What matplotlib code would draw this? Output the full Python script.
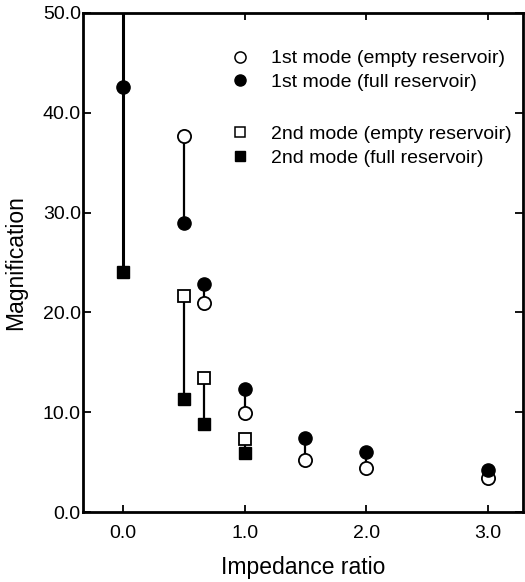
import numpy as np
import matplotlib
matplotlib.use("Agg")
import matplotlib.pyplot as plt
from matplotlib.lines import Line2D

plt.rcParams['font.family'] = ['Liberation Sans', 'DejaVu Sans']

# impedance ratios
ratio = [0.0, 0.5, 2 / 3, 1.0, 1.5, 2.0, 3.0]

# magnification values (nan = off the chart / not plotted)
mode1_empty = [np.nan, 37.7, 20.9, 9.9, 5.2, 4.4, 3.4]
mode1_full = [42.6, 29.0, 22.8, 12.3, 7.4, 6.0, 4.2]
mode2_empty = [np.nan, 21.6, 13.4, 7.3, np.nan, np.nan, np.nan]
mode2_full = [24.0, 11.3, 8.8, 5.9, np.nan, np.nan, np.nan]

legend1 = ['1st mode (empty reservoir)', '1st mode (full reservoir)']
legend2 = ['2nd mode (empty reservoir)', '2nd mode (full reservoir)']

YMAX = 50.0


def main():
    fig = plt.figure(figsize=(5.25, 5.82), dpi=100)
    ax = fig.add_axes([0.158, 0.12, 0.838, 0.858])

    # vertical connectors between empty and full values
    for i, x in enumerate(ratio):
        if i == 0:
            # empty reservoir value goes off the chart
            ax.plot([x, x], [YMAX, mode2_full[i]], color='black', lw=2.2, zorder=1)
            continue
        for e, f in ((mode1_empty[i], mode1_full[i]), (mode2_empty[i], mode2_full[i])):
            if not (np.isnan(e) or np.isnan(f)):
                ax.plot([x, x], [e, f], color='black', lw=1.6, zorder=1)

    ms = 9.5
    ax.plot(ratio, mode1_empty, 'o', ms=ms, mfc='white', mec='black', mew=1.3, ls='none', zorder=3)
    ax.plot(ratio, mode1_full, 'o', ms=ms, mfc='black', mec='black', ls='none', zorder=3)
    ax.plot(ratio, mode2_empty, 's', ms=ms - 0.5, mfc='white', mec='black', mew=1.3, ls='none', zorder=3)
    ax.plot(ratio, mode2_full, 's', ms=ms - 0.5, mfc='black', mec='black', ls='none', zorder=3)

    ax.set_xlim(-0.33, 3.29)
    ax.set_ylim(0, YMAX)
    ax.set_xticks([0, 1, 2, 3])
    ax.set_yticks(np.arange(0, 51, 10))
    ax.xaxis.set_major_formatter(plt.FormatStrFormatter('%.1f'))
    ax.yaxis.set_major_formatter(plt.FormatStrFormatter('%.1f'))
    ax.tick_params(axis='both', direction='in', top=True, right=True,
                   labelsize=14, length=5, width=1.3)
    ax.tick_params(axis='x', pad=9)
    ax.tick_params(axis='y', pad=1.5, length=6)
    for s in ax.spines.values():
        s.set_linewidth(2)

    ax.set_xlabel('Impedance ratio', fontsize=16.5, labelpad=10)
    ax.set_ylabel('Magnification', fontsize=16.5, labelpad=11)

    # legends (two groups)
    h1 = [Line2D([], [], marker='o', ls='none', mfc='white', mec='black', ms=8, mew=1.1),
          Line2D([], [], marker='o', ls='none', mfc='black', mec='black', ms=8)]
    h2 = [Line2D([], [], marker='s', ls='none', mfc='white', mec='black', ms=7.5, mew=1.1),
          Line2D([], [], marker='s', ls='none', mfc='black', mec='black', ms=7.5)]
    opts = dict(loc='upper left', frameon=False, fontsize=14, handletextpad=1.0,
                labelspacing=0.3, borderaxespad=0, handlelength=1.2, borderpad=0)
    leg1 = ax.legend(h1, legend1, bbox_to_anchor=(0.33, 0.926), **opts)
    ax.add_artist(leg1)
    ax.legend(h2, legend2, bbox_to_anchor=(0.33, 0.774), **opts)

    plt.savefig('out.png', dpi=100)


if __name__ == "__main__":
    main()
